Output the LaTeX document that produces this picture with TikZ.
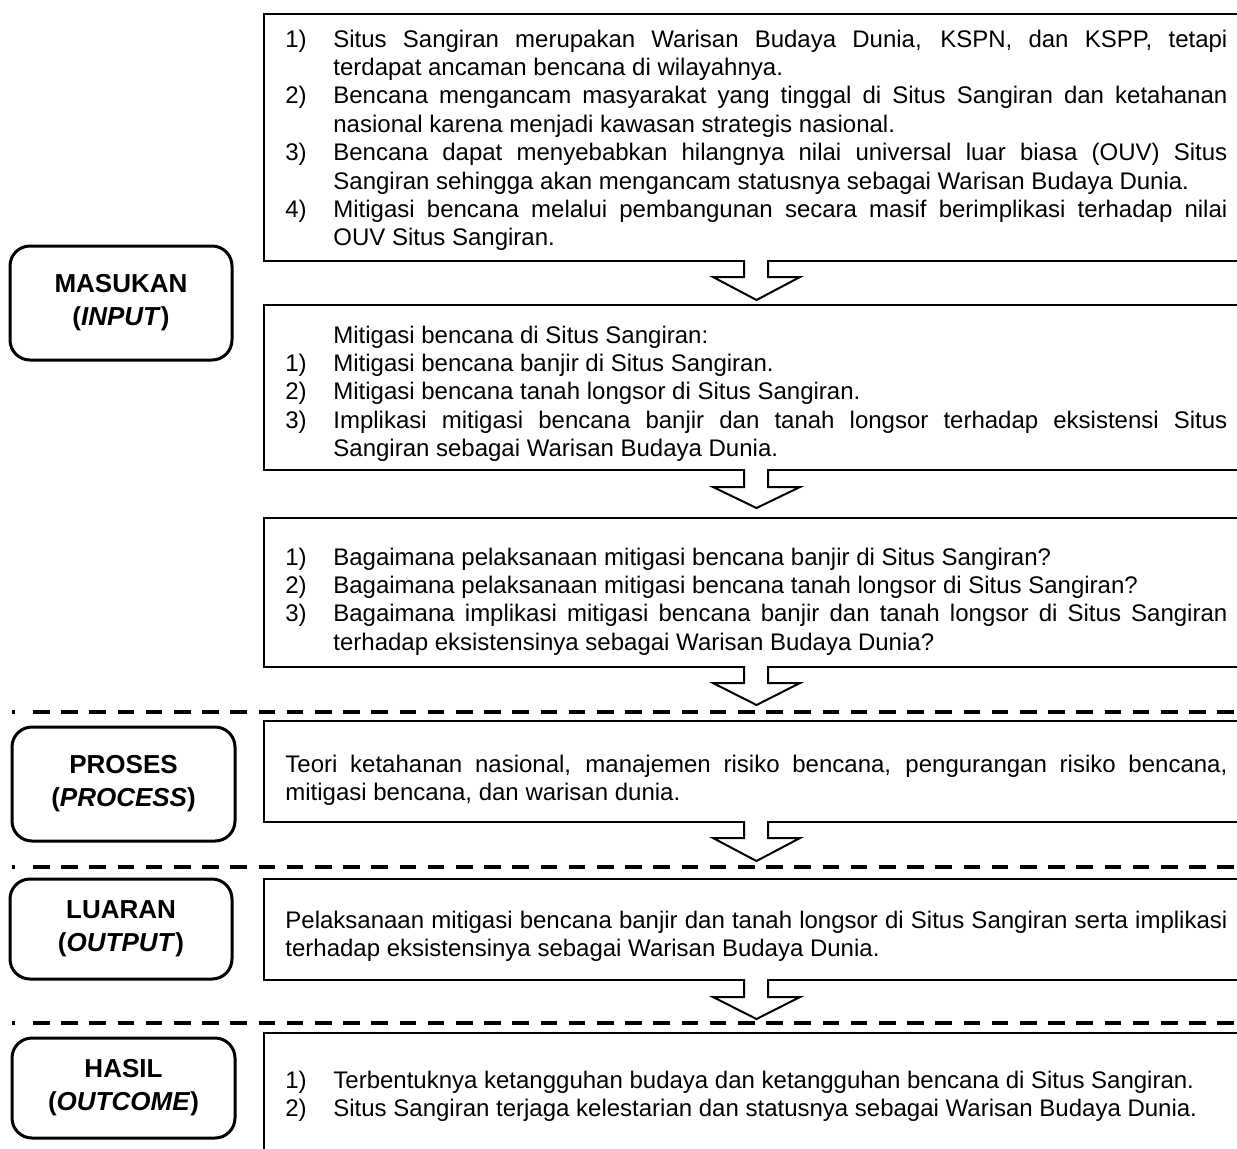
\documentclass[tikz,border=0pt]{standalone}
\usepackage{fontspec}
\setmainfont{Liberation Sans}
\hyphenpenalty=10000
\exhyphenpenalty=10000
\tolerance=9999
\newcommand\myitem[2]{\hangindent=24pt\hangafter=1\noindent\makebox[24pt][l]{#1)}#2\par}
\newcommand\blockarrow[3]{%
  \path[fill=white] (744,#1-2) -- (744,#2) -- (713,#2) -- (756.5,#3) -- (800,#2) -- (768,#2) -- (768,#1-2) -- cycle;
  \draw[arrline] (744,#1) -- (744,#2) -- (713,#2) -- (756.5,#3) -- (800,#2) -- (768,#2) -- (768,#1);}
\begin{document}
\begin{tikzpicture}[x=0.5pt,y=-0.5pt,
  box/.style={draw, line width=1pt, inner sep=0pt, anchor=north west, minimum width=495pt},
  lab/.style={draw, line width=1.5pt, rounded corners=10pt, align=center, inner sep=0pt,
    font=\fontsize{13}{16.5}\selectfont\bfseries},
  txt/.style={anchor=base west, inner sep=0pt, text width=471pt, align=justify,
    font=\fontsize{12}{14.2}\selectfont},
  sep/.style={line width=2pt, dash pattern=on 8.3pt off 5.8pt},
  arrline/.style={line width=1pt, line join=miter}
]
\useasboundingbox (0,0) rectangle (1237,1148);
\clip (0,0) rectangle (1237,1148);

% right-hand boxes
\node[box, minimum height=123.5pt] (b1) at (263,13) {};
\node[box, minimum height=82.5pt] (b2) at (263,304) {};
\node[box, minimum height=74.5pt] (b3) at (263,517) {};
\node[box, minimum height=50.5pt] (b4) at (263,720) {};
\node[box, minimum height=50.5pt] (b5) at (263,878) {};
\node[box, minimum height=65pt] (b6) at (263,1032) {};

% block arrows
\blockarrow{260}{277}{300}
\blockarrow{469}{487}{508}
\blockarrow{666}{683}{705}
\blockarrow{821}{838}{861}
\blockarrow{979}{997}{1019}

% dashed separators
\foreach \yy in {712,867,1023}{
  \draw[line width=2pt] (12,\yy) -- (15,\yy);
  \draw[sep] (33,\yy) -- (1245,\yy);
}

% left labels
\node[lab, minimum width=111pt, minimum height=57pt] (lin) at (121,303) {MASUKAN\\(\textit{INPUT})};
\node[lab, minimum width=111.5pt, minimum height=57pt] (lpr) at (123.5,784) {PROSES\\(\textit{PROCESS})};
\node[lab, minimum width=111pt, minimum height=50pt] (lou) at (121,929) {LUARAN\\(\textit{OUTPUT})};
\node[lab, minimum width=111.5pt, minimum height=50pt] (lha) at (123.5,1088) {HASIL\\(\textit{OUTCOME})};

% texts
\node[txt] (t1) at (285,47) {%
\myitem{1}{Situs Sangiran merupakan Warisan Budaya Dunia, KSPN, dan KSPP, tetapi\linebreak terdapat ancaman bencana di wilayahnya.}%
\myitem{2}{Bencana mengancam masyarakat yang tinggal di Situs Sangiran dan ketahanan\linebreak nasional karena menjadi kawasan strategis nasional.}%
\myitem{3}{Bencana dapat menyebabkan hilangnya nilai universal luar biasa (OUV) Situs\linebreak Sangiran sehingga akan mengancam statusnya sebagai Warisan Budaya Dunia.}%
\myitem{4}{Mitigasi bencana melalui pembangunan secara masif berimplikasi terhadap nilai\linebreak OUV Situs Sangiran.}};

\node[txt] (t2) at (285,343) {%
\noindent\hspace*{24pt}Mitigasi bencana di Situs Sangiran:\par
\myitem{1}{Mitigasi bencana banjir di Situs Sangiran.}%
\myitem{2}{Mitigasi bencana tanah longsor di Situs Sangiran.}%
\myitem{3}{Implikasi mitigasi bencana banjir dan tanah longsor terhadap eksistensi Situs\linebreak Sangiran sebagai Warisan Budaya Dunia.}};

\node[txt] (t3) at (285,565) {%
\myitem{1}{Bagaimana pelaksanaan mitigasi bencana banjir di Situs Sangiran?}%
\myitem{2}{Bagaimana pelaksanaan mitigasi bencana tanah longsor di Situs Sangiran?}%
\myitem{3}{Bagaimana implikasi mitigasi bencana banjir dan tanah longsor di Situs Sangiran\linebreak terhadap eksistensinya sebagai Warisan Budaya Dunia?}};

\node[txt] (t4) at (285,772) {%
Teori ketahanan nasional, manajemen risiko bencana, pengurangan risiko bencana,\linebreak mitigasi bencana, dan warisan dunia.\par};

\node[txt] (t5) at (285,928) {%
Pelaksanaan mitigasi bencana banjir dan tanah longsor di Situs Sangiran serta implikasi\linebreak terhadap eksistensinya sebagai Warisan Budaya Dunia.\par};

\node[txt] (t6) at (285,1088) {%
\myitem{1}{Terbentuknya ketangguhan budaya dan ketangguhan bencana di Situs Sangiran.}%
\myitem{2}{Situs Sangiran terjaga kelestarian dan statusnya sebagai Warisan Budaya Dunia.}};
\end{tikzpicture}
\end{document}
